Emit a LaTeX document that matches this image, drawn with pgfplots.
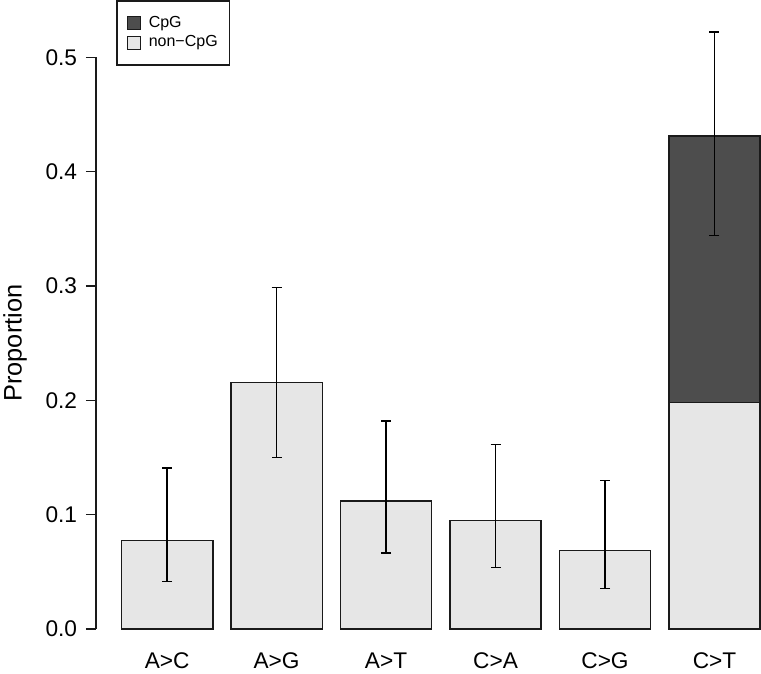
\documentclass[border=0pt]{standalone}
\usepackage{pgfplots}
\usepackage{pgfplotstable}
\pgfplotsset{compat=1.18}
\usepackage{fontspec}
\setmainfont{Liberation Sans}
\definecolor{cpgdark}{HTML}{4D4D4D}
\definecolor{cpglight}{HTML}{E6E6E6}
\definecolor{edge}{HTML}{1A1A1A}

% proportion of each substitution (light part = non-CpG, C>T total with CpG)
\pgfplotstableread{
x  p       lo      hi
0  0.0776  0.0414  0.1410
1  0.2154  0.1500  0.2988
2  0.1120  0.0665  0.1820
3  0.0947  0.0536  0.1615
4  0.0688  0.0353  0.1297
5  0.4310  0.3443  0.5222
}\errtab
\pgfplotstableread{
x  p
0  0.0776
1  0.2154
2  0.1120
3  0.0947
4  0.0688
5  0.1980
}\noncpg

\begin{document}
\begin{tikzpicture}
\useasboundingbox (-72pt,-33.75pt) rectangle (498.75pt,471.75pt);
\begin{axis}[
    at={(0,0)}, anchor=south west,
    scale only axis,
    width=498.75pt, height=428.8pt,
    xmin=-0.65, xmax=5.425,
    ymin=0, ymax=0.5,
    clip=false,
    axis y line=left,
    axis x line=bottom,
    axis line style={-, edge, line width=1.1pt},
    x axis line style={draw=none},
    xtick={0,1,2,3,4,5},
    xticklabels={A>C, A>G, A>T, C>A, C>G, C>T},
    xtick style={draw=none},
    ytick={0,0.1,0.2,0.3,0.4,0.5},
    yticklabels={0.0,0.1,0.2,0.3,0.4,0.5},
    tick align=outside,
    major tick length=7.5pt,
    ytick style={edge, line width=1.1pt},
    tick label style={font=\fontsize{17}{20}\selectfont},
    xticklabel style={anchor=base, yshift=-21.8pt},
    yticklabel style={anchor=east, inner sep=0pt, xshift=-6.5pt},
    /pgf/number format/assume math mode=true,
    ylabel={Proportion},
    ylabel style={font=\fontsize{19}{22}\selectfont, at={(axis description cs:-0.1218,0.5)}, anchor=center},
    legend cell align=left,
    legend image code/.code={\draw[#1, draw=edge, line width=0.6pt] (0pt,-4.9pt) rectangle (9.75pt,4.9pt);},
    legend style={
        at={(axis cs:-0.465,0.55)}, anchor=north west,
        draw=edge, line width=1.1pt, fill=white,
        font=\fontsize{12}{14}\selectfont,
        inner xsep=7.5pt, inner ysep=9.8pt, row sep=1pt,
        nodes={inner sep=1.5pt, text height=8.4pt, text depth=2.4pt},
        /tikz/every odd column/.append style={column sep=4.5pt},
    },
]
% CpG part drawn as the full C>T bar, then covered by the non-CpG bars
\addplot[ybar, bar width=68.5pt, bar shift=0pt, fill=cpgdark, draw=edge, line width=1.1pt]
    coordinates {(5,0.4310)};
\addlegendentry{CpG}
\addplot[ybar, bar width=68.5pt, bar shift=0pt, fill=cpglight, draw=edge, line width=1.1pt]
    table[x=x, y=p] {\noncpg};
\addlegendentry{non\textminus CpG}
\addplot[draw=none, mark=none, forget plot,
    error bars/.cd, y dir=both, y explicit,
    error bar style={black, line width=1.1pt},
    error mark options={rotate=90, mark size=3.75pt, line width=1.1pt}]
    table[x=x, y=p, y error plus expr=\thisrow{hi}-\thisrow{p}, y error minus expr=\thisrow{p}-\thisrow{lo}] {\errtab};
\end{axis}
\end{tikzpicture}
\end{document}
